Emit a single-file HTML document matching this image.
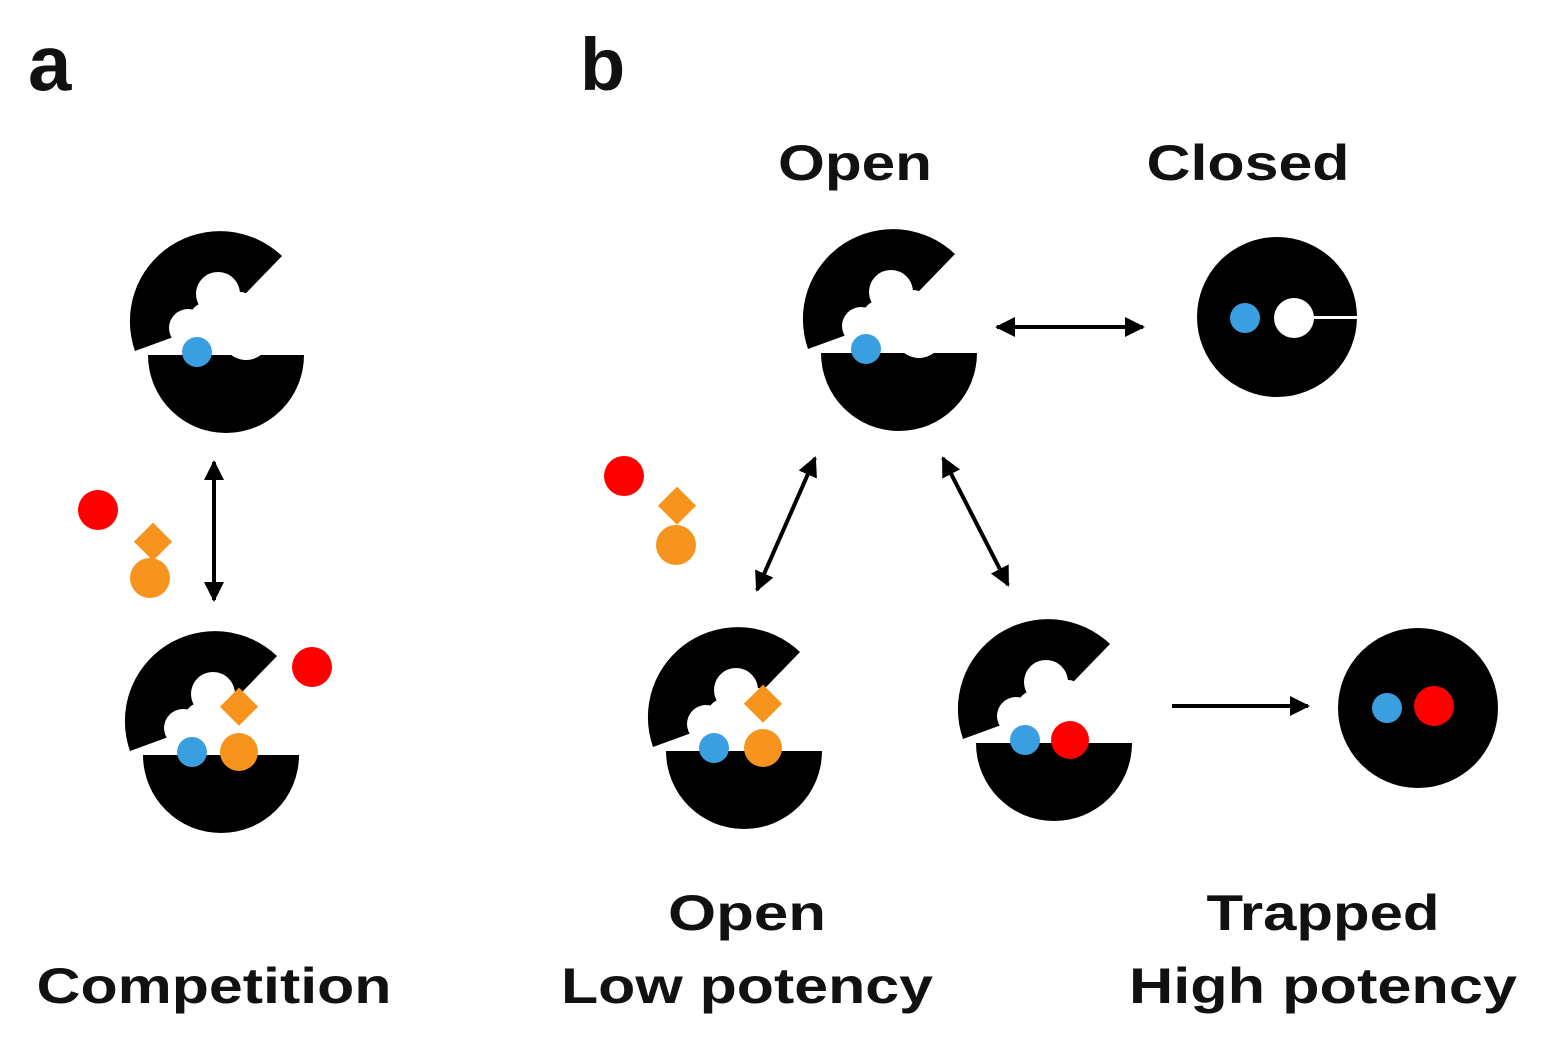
<!DOCTYPE html>
<html><head><meta charset="utf-8"><style>html,body{margin:0;padding:0;background:#fff}svg{display:block}</style></head>
<body>
<svg width="1542" height="1051" viewBox="0 0 1542 1051" xmlns="http://www.w3.org/2000/svg">
<defs>
<g id="pac">
  <path d="M0,-10 L62,-74 A90 90 0 0 0 -85,21 Z" fill="#000"/>
  <path d="M-72,25 A78 78 0 0 0 84,25 Z" fill="#000"/>
  <circle cx="-2" cy="-36" r="22" fill="#fff"/>
  <circle cx="-32" cy="-2" r="19" fill="#fff"/>
  <circle cx="-12" cy="-8" r="20" fill="#fff"/>
  <circle cx="26" cy="6" r="24" fill="#fff"/>
  <circle cx="20" cy="-22" r="16" fill="#fff"/>
  <polygon points="-80,25 -40,8 -30,25" fill="#fff"/>
</g>
<marker id="ah" viewBox="0 0 10 10" refX="9" refY="5" markerWidth="5" markerHeight="5" orient="auto-start-reverse"><path d="M0,0 L10,5 L0,10 Z" fill="#000"/></marker>
</defs>

<g font-family="Liberation Sans, Arial, sans-serif" font-weight="bold" fill="#111">
<text x="28" y="90" font-size="78">a</text>
<text x="580" y="90" font-size="74">b</text>
<text x="855" y="180" font-size="50" text-anchor="middle" textLength="154" lengthAdjust="spacingAndGlyphs">Open</text>
<text x="1248" y="180" font-size="50" text-anchor="middle" textLength="203" lengthAdjust="spacingAndGlyphs">Closed</text>
<text x="214" y="1003" font-size="50" text-anchor="middle" textLength="355" lengthAdjust="spacingAndGlyphs">Competition</text>
<text x="747" y="930" font-size="50" text-anchor="middle" textLength="158" lengthAdjust="spacingAndGlyphs">Open</text>
<text x="747" y="1003" font-size="50" text-anchor="middle" textLength="372" lengthAdjust="spacingAndGlyphs">Low potency</text>
<text x="1323" y="930" font-size="50" text-anchor="middle" textLength="233" lengthAdjust="spacingAndGlyphs">Trapped</text>
<text x="1323" y="1003" font-size="50" text-anchor="middle" textLength="388" lengthAdjust="spacingAndGlyphs">High potency</text>
</g>

<!-- a top -->
<use href="#pac" x="220" y="330"/>
<circle cx="197" cy="352" r="15" fill="#3a9fe0"/>
<!-- a bottom -->
<use href="#pac" x="215" y="730"/>
<circle cx="192" cy="752" r="15" fill="#3a9fe0"/>
<circle cx="239" cy="752" r="19" fill="#f7941d"/>
<rect x="226" y="693" width="27" height="27" fill="#f7941d" transform="rotate(45 239 706)"/>
<circle cx="312" cy="667" r="20" fill="#f00"/>
<!-- a loose -->
<circle cx="98" cy="510" r="20" fill="#f00"/>
<rect x="140" y="528" width="27" height="27" fill="#f7941d" transform="rotate(45 153 541)"/>
<circle cx="150" cy="578" r="20" fill="#f7941d"/>

<!-- b open -->
<use href="#pac" x="893" y="328"/>
<circle cx="866" cy="349" r="15" fill="#3a9fe0"/>
<!-- closed -->
<circle cx="1277" cy="317" r="80" fill="#000"/>
<rect x="1290" y="316" width="67" height="3" fill="#fff"/>
<circle cx="1245" cy="318" r="15" fill="#3a9fe0"/>
<circle cx="1294" cy="318" r="20" fill="#fff"/>
<!-- b low -->
<use href="#pac" x="738" y="726"/>
<circle cx="714" cy="748" r="15" fill="#3a9fe0"/>
<circle cx="763" cy="748" r="19" fill="#f7941d"/>
<rect x="750" y="690" width="27" height="27" fill="#f7941d" transform="rotate(45 763 703)"/>
<!-- b trapped -->
<use href="#pac" x="1048" y="718"/>
<circle cx="1025" cy="740" r="15" fill="#3a9fe0"/>
<circle cx="1070" cy="740" r="19" fill="#f00"/>
<!-- trapped closed -->
<circle cx="1418" cy="708" r="80" fill="#000"/>
<circle cx="1387" cy="708" r="15" fill="#3a9fe0"/>
<circle cx="1434" cy="706" r="20" fill="#f00"/>
<!-- b loose -->
<circle cx="624" cy="476" r="20" fill="#f00"/>
<rect x="664" y="492" width="27" height="27" fill="#f7941d" transform="rotate(45 677 505)"/>
<circle cx="676" cy="545" r="20" fill="#f7941d"/>

<!-- arrows -->
<g stroke="#000" stroke-width="4" fill="none">
<line x1="214" y1="462" x2="214" y2="600" marker-start="url(#ah)" marker-end="url(#ah)"/>
<line x1="997" y1="327" x2="1143" y2="327" marker-start="url(#ah)" marker-end="url(#ah)"/>
<line x1="815" y1="458" x2="757" y2="590" marker-start="url(#ah)" marker-end="url(#ah)"/>
<line x1="943" y1="458" x2="1008" y2="585" marker-start="url(#ah)" marker-end="url(#ah)"/>
<line x1="1172" y1="706" x2="1308" y2="706" marker-end="url(#ah)"/>
</g>
</svg>
</body></html>
